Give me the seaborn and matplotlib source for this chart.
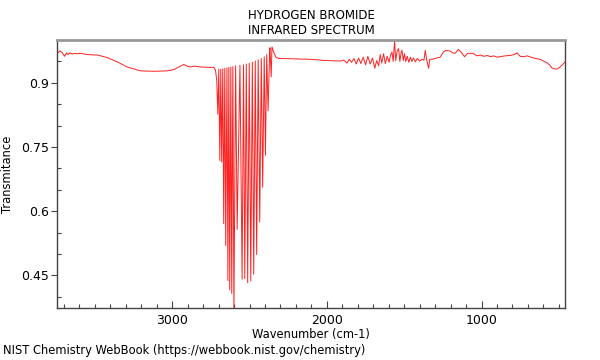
import numpy as np
import pandas as pd
import seaborn as sns
import matplotlib.pyplot as plt
from matplotlib.ticker import MultipleLocator

# values
wavenumber = [
    3743, 3739, 3726, 3710, 3696, 3683, 3674, 3661, 3646, 3636, 3614, 3592,
    3549, 3484, 3420, 3355, 3291, 3205, 3119, 3032, 2990, 2946, 2925, 2903,
    2882, 2860, 2817, 2731, 2720, 2712,
    # R branch
    2705, 2699, 2692, 2686, 2680, 2673, 2667, 2660, 2654, 2646, 2640, 2634,
    2628, 2621, 2615, 2608, 2601, 2590, 2580, 2562,
    # P branch
    2548, 2539, 2531, 2521, 2512, 2502, 2492, 2482, 2473, 2463, 2454, 2444,
    2434, 2424, 2415, 2405, 2397, 2389, 2380, 2370, 2368, 2360, 2355, 2344,
    2330, 2311, 2200, 2107, 2003, 1913,
    # noisy water region
    1890, 1870, 1855, 1840, 1825, 1810, 1795, 1780, 1765, 1750, 1735, 1720,
    1705, 1690, 1678, 1665, 1655, 1645, 1633, 1622, 1610, 1598, 1587, 1579,
    1571, 1562, 1555, 1545, 1536, 1528, 1520, 1514, 1506, 1498, 1490, 1480,
    1470, 1460, 1450, 1440, 1428, 1415, 1400, 1385, 1372, 1364, 1355, 1342,
    1335, 1318, 1290, 1267, 1247, 1230, 1202, 1185, 1170, 1150, 1130, 1110,
    1090, 1054, 1030, 1008, 985, 960, 944, 920, 900, 879, 850, 814,
    790, 769, 750, 730, 705, 680, 653, 621, 600, 578, 560, 545,
    530, 513, 495, 481, 470, 459,
]
transmittance = [
    0.972, 0.970, 0.975, 0.970, 0.962, 0.970, 0.966, 0.970, 0.967, 0.969, 0.968, 0.969,
    0.966, 0.965, 0.959, 0.949, 0.937, 0.928, 0.927, 0.928, 0.931, 0.939, 0.943, 0.939,
    0.937, 0.939, 0.937, 0.936, 0.930, 0.905,
    0.827, 0.932, 0.718, 0.932, 0.715, 0.933, 0.571, 0.934, 0.520, 0.935, 0.438, 0.936,
    0.417, 0.937, 0.408, 0.938, 0.360, 0.940, 0.558, 0.941,
    0.441, 0.942, 0.443, 0.944, 0.433, 0.946, 0.437, 0.948, 0.453, 0.951, 0.499, 0.954,
    0.575, 0.957, 0.656, 0.961, 0.731, 0.966, 0.835, 0.975, 0.982, 0.914, 0.984, 0.972,
    0.960, 0.957, 0.956, 0.955, 0.952, 0.951,
    0.953, 0.946, 0.955, 0.948, 0.957, 0.944, 0.958, 0.945, 0.960, 0.942, 0.962, 0.944,
    0.958, 0.934, 0.952, 0.940, 0.966, 0.946, 0.968, 0.945, 0.962, 0.948, 0.966, 0.972,
    0.950, 0.999, 0.952, 0.975, 0.980, 0.950, 0.970, 0.976, 0.952, 0.968, 0.950, 0.962,
    0.948, 0.960, 0.950, 0.958, 0.949, 0.957, 0.951, 0.955, 0.953, 0.976, 0.955, 0.934,
    0.955, 0.955, 0.958, 0.960, 0.972, 0.976, 0.974, 0.970, 0.969, 0.978, 0.971, 0.961,
    0.969, 0.969, 0.963, 0.965, 0.962, 0.964, 0.961, 0.963, 0.960, 0.961, 0.963, 0.964,
    0.966, 0.970, 0.962, 0.961, 0.963, 0.960, 0.957, 0.955, 0.951, 0.947, 0.942, 0.935,
    0.933, 0.932, 0.936, 0.941, 0.945, 0.949,
]
x_ticks = [3000, 2000, 1000]
y_ticks = [0.45, 0.6, 0.75, 0.9]

df = pd.DataFrame({"wavenumber": wavenumber, "transmittance": transmittance})

sns.set_style("white", {"text.color": "black", "axes.labelcolor": "black",
                        "xtick.color": "#444444", "ytick.color": "#444444",
                        "xtick.bottom": True, "ytick.left": True})
plt.rcParams['font.family'] = ['DejaVu Sans']

fig = plt.figure(figsize=(6, 3.6), dpi=100)
ax = fig.add_axes([0.095, 0.1444, 0.8467, 0.7444])
sns.lineplot(data=df, x="wavenumber", y="transmittance", ax=ax,
             color="#ff2020", linewidth=0.7, sort=False, estimator=None)

ax.set_xlim(3745, 460)
ax.set_ylim(0.374, 1.0)
ax.set_xticks(x_ticks)
ax.set_xticklabels([str(t) for t in x_ticks])
ax.set_yticks(y_ticks)
ax.set_yticklabels([str(t) for t in y_ticks])
ax.xaxis.set_minor_locator(MultipleLocator(100))
ax.yaxis.set_minor_locator(MultipleLocator(0.05))
ax.tick_params(axis="x", which="both", bottom=True, labelcolor="black")
ax.tick_params(axis="y", which="both", left=True, labelcolor="black")
ax.tick_params(axis="x", which="major", direction="in", length=5, width=0.8, labelsize=9, pad=4)
ax.tick_params(axis="x", which="minor", direction="in", length=3, width=0.8)
ax.tick_params(axis="y", which="major", direction="out", length=4, width=0.8, labelsize=9, pad=2)
ax.tick_params(axis="y", which="minor", direction="in", length=3, width=0.8)

for side in ["left", "bottom", "right"]:
    ax.spines[side].set_color("#444444")
    ax.spines[side].set_linewidth(1.0)
ax.spines["top"].set_color("#999999")
ax.spines["top"].set_linewidth(2.0)

ax.set_title("HYDROGEN BROMIDE\nINFRARED SPECTRUM", fontsize=8.5, pad=4, color="black")
ax.set_xlabel("Wavenumber (cm-1)", fontsize=8.3, labelpad=1)
ax.set_ylabel("Transmitance", fontsize=8.3, labelpad=5)
fig.text(0.005, 0.018, "NIST Chemistry WebBook (https://webbook.nist.gov/chemistry)",
         fontsize=8.3, color="black")

fig.savefig("out.png", dpi=100)
